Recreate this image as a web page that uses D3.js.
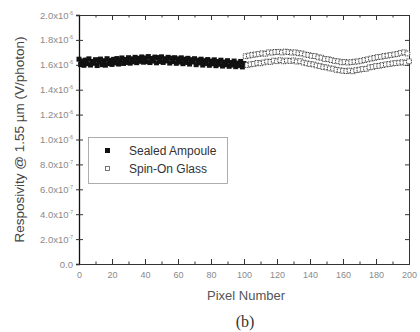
<!DOCTYPE html>
<html>
<head>
<meta charset="utf-8">
<script src="https://cdn.jsdelivr.net/npm/d3@7"></script>
<style>
  body { margin: 0; background: #fff; }
  svg { display: block; font-family: "Liberation Sans", Arial, sans-serif; }
</style>
</head>
<body>
<div id="chart"></div>
<script>
// values in units of 1e-6 V/photon
const sealedPixels = d3.range(0, 101);
const sealedValues = [
  1.645, 1.602, 1.631, 1.596, 1.638, 1.609, 1.648, 1.598, 1.627, 1.612,
  1.641, 1.594, 1.622, 1.646, 1.601, 1.633, 1.597, 1.649, 1.610, 1.636,
  1.603, 1.644, 1.615, 1.650, 1.606, 1.638, 1.655, 1.611, 1.643, 1.619,
  1.657, 1.613, 1.648, 1.624, 1.660, 1.617, 1.652, 1.628, 1.663, 1.621,
  1.655, 1.625, 1.666, 1.618, 1.651, 1.630, 1.662, 1.616, 1.658, 1.627,
  1.664, 1.619, 1.649, 1.631, 1.660, 1.614, 1.653, 1.626, 1.657, 1.612,
  1.648, 1.622, 1.656, 1.609, 1.645, 1.619, 1.652, 1.606, 1.641, 1.623,
  1.649, 1.601, 1.637, 1.615, 1.645, 1.598, 1.633, 1.611, 1.642, 1.596,
  1.630, 1.608, 1.640, 1.593, 1.626, 1.604, 1.637, 1.590, 1.622, 1.601,
  1.633, 1.588, 1.618, 1.598, 1.630, 1.585, 1.614, 1.595, 1.627, 1.583,
  1.610
];
const spinPixels = d3.range(101, 201);
const spinValues = [
  1.669, 1.598, 1.674, 1.604, 1.680, 1.607, 1.683, 1.615, 1.687, 1.612,
  1.692, 1.619, 1.689, 1.626, 1.700, 1.623, 1.698, 1.634, 1.703, 1.629,
  1.704, 1.637, 1.699, 1.628, 1.706, 1.634, 1.702, 1.631, 1.698, 1.635,
  1.700, 1.626, 1.693, 1.629, 1.691, 1.618, 1.683, 1.612, 1.679, 1.606,
  1.672, 1.603, 1.670, 1.595, 1.660, 1.590, 1.657, 1.581, 1.646, 1.579,
  1.645, 1.571, 1.638, 1.569, 1.630, 1.560, 1.628, 1.556, 1.620, 1.552,
  1.623, 1.549, 1.618, 1.554, 1.621, 1.548, 1.625, 1.557, 1.627, 1.561,
  1.632, 1.566, 1.638, 1.568, 1.644, 1.579, 1.650, 1.583, 1.655, 1.590,
  1.662, 1.592, 1.664, 1.598, 1.671, 1.603, 1.674, 1.606, 1.679, 1.611,
  1.683, 1.614, 1.687, 1.617, 1.696, 1.620, 1.700, 1.616, 1.691, 1.628
];
const xTicks = [0, 20, 40, 60, 80, 100, 120, 140, 160, 180, 200];
const xMinorTicks = [10, 30, 50, 70, 90, 110, 130, 150, 170, 190];
const yTicks = [0, 0.2, 0.4, 0.6, 0.8, 1.0, 1.2, 1.4, 1.6, 1.8, 2.0];
const yTickMantissa = ["0.0", "2.0", "4.0", "6.0", "8.0", "1.0", "1.2", "1.4", "1.6", "1.8", "2.0"];
const yTickExponent = ["", "-7", "-7", "-7", "-7", "-6", "-6", "-6", "-6", "-6", "-6"];
const seriesNames = ["Sealed Ampoule", "Spin-On Glass"];

const width = 420, height = 332;
const margin = { left: 79, right: 11, top: 15, bottom: 68 };

const svg = d3.select('#chart').append('svg')
  .attr('width', width).attr('height', height);

const x = d3.scaleLinear().domain([0, 200]).range([margin.left, width - margin.right]);
const y = d3.scaleLinear().domain([0, 2.0]).range([height - margin.bottom, margin.top]);

const axisColor = '#333';
const labelColor = '#8a8a8a';

// frame axes
const xAxisB = svg.append('g')
  .attr('transform', 'translate(0,' + y(0) + ')')
  .call(d3.axisBottom(x).tickValues(xTicks).tickSize(-5).tickPadding(8).tickFormat(d3.format('d')));
svg.append('g')
  .attr('transform', 'translate(0,' + y(0) + ')')
  .call(d3.axisBottom(x).tickValues(xMinorTicks).tickSize(-2.5).tickFormat(''))
  .call(g => g.select('.domain').remove());
svg.append('g')
  .attr('transform', 'translate(0,' + y(2.0) + ')')
  .call(d3.axisTop(x).tickValues(xTicks).tickSize(-5).tickFormat(''));
svg.append('g')
  .attr('transform', 'translate(0,' + y(2.0) + ')')
  .call(d3.axisTop(x).tickValues(xMinorTicks).tickSize(-2.5).tickFormat(''))
  .call(g => g.select('.domain').remove());

const yAxisL = svg.append('g')
  .attr('transform', 'translate(' + x(0) + ',0)')
  .call(d3.axisLeft(y).tickValues(yTicks).tickSize(3).tickPadding(4).tickFormat(''));
yAxisL.selectAll('.tick line').attr('x2', 4).attr('x1', -3);
svg.append('g')
  .attr('transform', 'translate(' + x(200) + ',0)')
  .call(d3.axisRight(y).tickValues(yTicks).tickSize(-4).tickFormat(''));

svg.selectAll('.domain').attr('stroke', axisColor).attr('stroke-width', 1);
svg.selectAll('.tick line').attr('stroke', axisColor);
yAxisL.select('.domain').attr('stroke', '#111').attr('stroke-width', 1.3);

xAxisB.selectAll('.tick text')
  .attr('fill', labelColor).attr('font-size', 9)
  .attr('font-family', '"Liberation Sans", Arial, sans-serif');

// y tick labels with superscript exponent
yAxisL.selectAll('.tick').each(function (d, i) {
  const t = d3.select(this).select('text')
    .attr('x', -6).attr('fill', labelColor).attr('font-size', 9.5)
    .attr('font-family', '"Liberation Sans", Arial, sans-serif')
    .attr('text-anchor', 'end');
  if (yTickExponent[i] === '') {
    t.append('tspan').text(yTickMantissa[i]);
  } else {
    t.append('tspan').text(yTickMantissa[i] + 'x10');
    t.append('tspan').attr('font-size', 5).attr('dy', -4).text(yTickExponent[i]);
  }
});

// data
const sz = 5;
svg.append('g').selectAll('rect')
  .data(sealedPixels.map((p, i) => [p, sealedValues[i]]))
  .join('rect')
  .attr('x', d => x(d[0]) - sz / 2)
  .attr('y', d => y(d[1]) - sz / 2)
  .attr('width', sz).attr('height', sz)
  .attr('fill', '#111');

const so = 4.8;
svg.append('g').selectAll('rect')
  .data(spinPixels.map((p, i) => [p, spinValues[i]]))
  .join('rect')
  .attr('x', d => x(d[0]) - so / 2)
  .attr('y', d => y(d[1]) - so / 2)
  .attr('width', so).attr('height', so)
  .attr('fill', '#fff')
  .attr('stroke', '#333')
  .attr('stroke-width', 0.9)
  .attr('stroke-dasharray', '1.2,0.7');

// legend
const lg = svg.append('g');
lg.append('rect')
  .attr('x', 88.5).attr('y', 137.5).attr('width', 139).attr('height', 46)
  .attr('fill', '#fff').attr('stroke', '#999').attr('stroke-width', 0.8);
lg.append('rect').attr('x', 105).attr('y', 148).attr('width', 5).attr('height', 5).attr('fill', '#111');
lg.append('rect').attr('x', 105.5).attr('y', 166.5).attr('width', 4).attr('height', 4)
  .attr('fill', '#fff').attr('stroke', '#555').attr('stroke-width', 0.8);
lg.append('text').attr('x', 129).attr('y', 155).attr('font-size', 12).attr('fill', '#333').text(seriesNames[0]);
lg.append('text').attr('x', 129).attr('y', 173).attr('font-size', 12).attr('fill', '#333').text(seriesNames[1]);

// titles
svg.append('text')
  .attr('transform', 'translate(24,' + ((y(0) + y(2.0)) / 2) + ') rotate(-90)')
  .attr('text-anchor', 'middle').attr('font-size', 13.5).attr('fill', '#444')
  .text('Resposivity @ 1.55 \u00b5m (V/photon)');
svg.append('text')
  .attr('x', 246).attr('y', 300).attr('text-anchor', 'middle')
  .attr('font-size', 13).attr('fill', '#555').text('Pixel Number');
svg.append('text')
  .attr('x', 245).attr('y', 327).attr('text-anchor', 'middle')
  .attr('font-size', 16).attr('fill', '#333')
  .attr('font-family', '"Liberation Serif", "Times New Roman", serif').text('(b)');
</script>
</body>
</html>
